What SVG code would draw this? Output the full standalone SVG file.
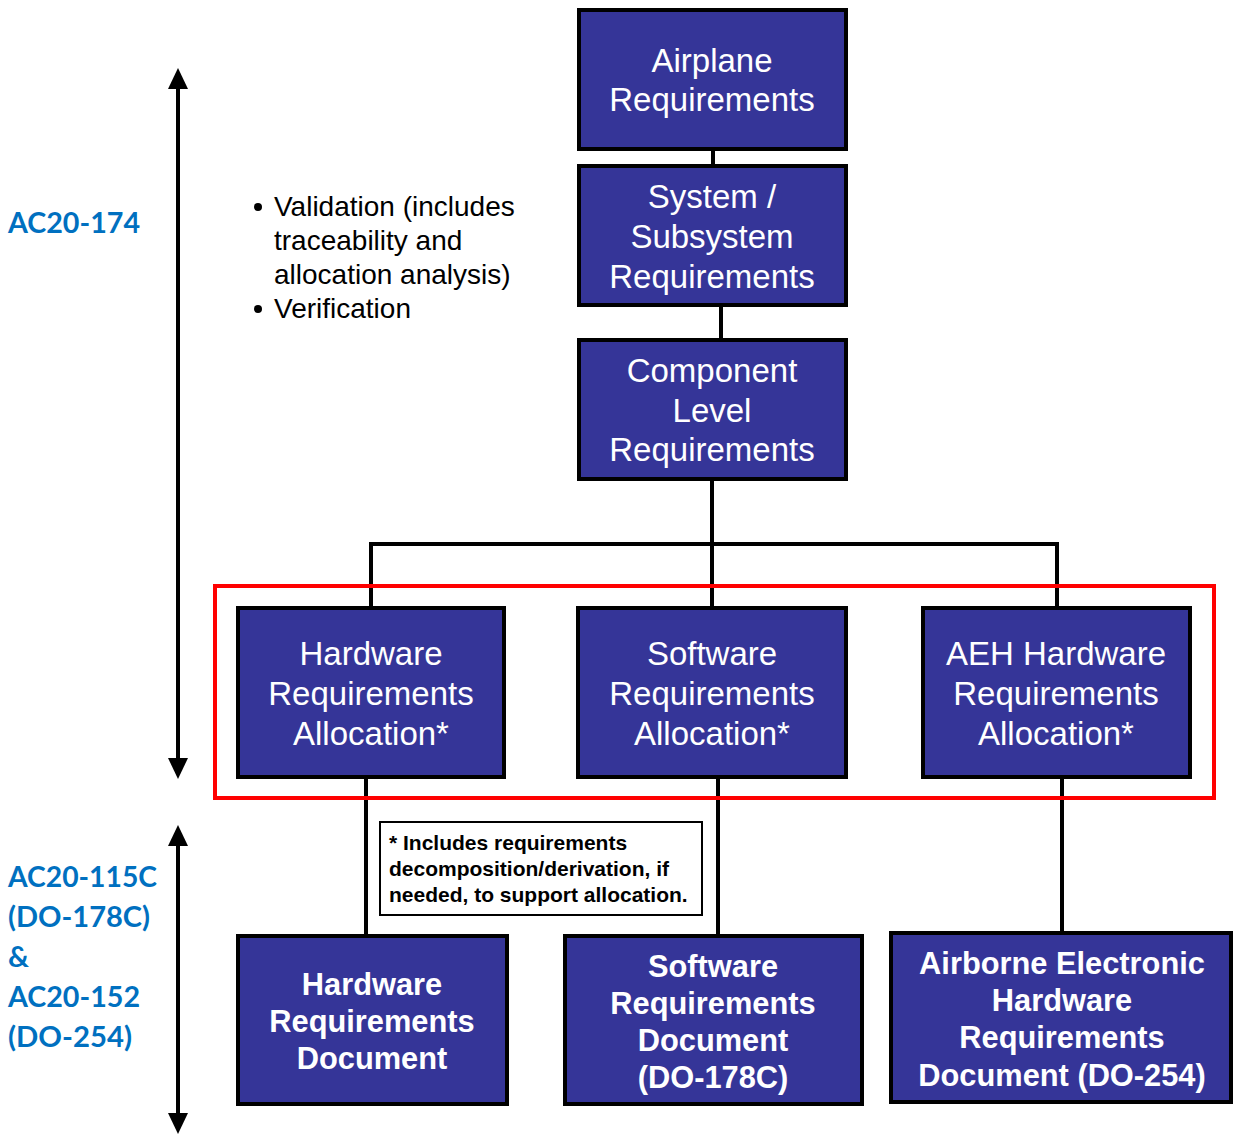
<svg xmlns="http://www.w3.org/2000/svg" width="1233" height="1135" viewBox="0 0 1233 1135">
  <style>
    .box { fill: #353598; stroke: #000; stroke-width: 4; }
    .lbl { fill: #fff; font-family: "Liberation Sans", Arial, sans-serif; font-size: 33px; text-anchor: middle; }
    .doc { fill: #fff; font-family: "Liberation Sans", Arial, sans-serif; font-size: 30.8px; font-weight: bold; text-anchor: middle; }
    .conn { stroke: #000; stroke-width: 4; fill: none; }
    .std { fill: #0070C0; font-family: Lato, "Open Sans", sans-serif; font-size: 29px; font-weight: bold; }
    .bul { fill: #000; font-family: "Liberation Sans", Arial, sans-serif; font-size: 28px; }
    .note { fill: #000; font-family: "Liberation Sans", Arial, sans-serif; font-size: 21px; font-weight: bold; }
    .head { fill: #000; }
  </style>

  <!-- scope arrows on the left -->
  <g id="scope-arrows">
    <line x1="178" y1="88" x2="178" y2="760" stroke="#000" stroke-width="4"/>
    <polygon class="head" points="168,89 178,68 188,89"/>
    <polygon class="head" points="168,758 178,779 188,758"/>
    <line x1="178" y1="845" x2="178" y2="1114" stroke="#000" stroke-width="4"/>
    <polygon class="head" points="168,846 178,825 188,846"/>
    <polygon class="head" points="168,1113 178,1134 188,1113"/>
  </g>

  <!-- guidance labels -->
  <g id="guidance">
    <text class="std" x="8" y="233" textLength="132" lengthAdjust="spacingAndGlyphs">AC20-174</text>
    <text class="std" x="8" y="887" textLength="149" lengthAdjust="spacingAndGlyphs">AC20-115C</text>
    <text class="std" x="8" y="927" textLength="142" lengthAdjust="spacingAndGlyphs">(DO-178C)</text>
    <text class="std" x="8" y="967">&amp;</text>
    <text class="std" x="8" y="1007" textLength="132" lengthAdjust="spacingAndGlyphs">AC20-152</text>
    <text class="std" x="8" y="1047" textLength="124" lengthAdjust="spacingAndGlyphs">(DO-254)</text>
  </g>

  <!-- bullet notes -->
  <g id="activities">
    <circle cx="258" cy="207" r="4" fill="#000"/>
    <text class="bul" x="274" y="216">Validation (includes</text>
    <text class="bul" x="274" y="250">traceability and</text>
    <text class="bul" x="274" y="284">allocation analysis)</text>
    <circle cx="258" cy="309" r="4" fill="#000"/>
    <text class="bul" x="274" y="318">Verification</text>
  </g>

  <!-- connectors -->
  <g id="connectors">
    <line class="conn" x1="713" y1="150" x2="713" y2="166"/>
    <line class="conn" x1="721" y1="306" x2="721" y2="340"/>
    <line class="conn" x1="712" y1="480" x2="712" y2="608"/>
    <polyline class="conn" points="371,608 371,544 1057,544 1057,608"/>
    <line class="conn" x1="366" y1="778" x2="366" y2="936"/>
    <line class="conn" x1="718" y1="778" x2="718" y2="936"/>
    <line class="conn" x1="1062" y1="778" x2="1062" y2="933"/>
  </g>

  <!-- allocation highlight -->
  <rect id="allocation-frame" x="215" y="586" width="999" height="212" fill="none" stroke="#ff0000" stroke-width="4"/>

  <g id="airplane-req">
    <rect class="box" x="579" y="10" width="267" height="139"/>
    <text class="lbl" x="712" y="72">Airplane</text>
    <text class="lbl" x="712" y="111">Requirements</text>
  </g>

  <g id="system-req">
    <rect class="box" x="579" y="166" width="267" height="139"/>
    <text class="lbl" x="712" y="208">System /</text>
    <text class="lbl" x="712" y="248">Subsystem</text>
    <text class="lbl" x="712" y="288">Requirements</text>
  </g>

  <g id="component-req">
    <rect class="box" x="579" y="340" width="267" height="139"/>
    <text class="lbl" x="712" y="382">Component</text>
    <text class="lbl" x="712" y="422">Level</text>
    <text class="lbl" x="712" y="461">Requirements</text>
  </g>

  <g id="hw-alloc">
    <rect class="box" x="238" y="608" width="266" height="169"/>
    <text class="lbl" x="371" y="665">Hardware</text>
    <text class="lbl" x="371" y="705">Requirements</text>
    <text class="lbl" x="371" y="745">Allocation*</text>
  </g>

  <g id="sw-alloc">
    <rect class="box" x="578" y="608" width="268" height="169"/>
    <text class="lbl" x="712" y="665">Software</text>
    <text class="lbl" x="712" y="705">Requirements</text>
    <text class="lbl" x="712" y="745">Allocation*</text>
  </g>

  <g id="aeh-alloc">
    <rect class="box" x="923" y="608" width="267" height="169"/>
    <text class="lbl" x="1056" y="665">AEH Hardware</text>
    <text class="lbl" x="1056" y="705">Requirements</text>
    <text class="lbl" x="1056" y="745">Allocation*</text>
  </g>

  <g id="footnote">
    <rect x="380" y="822" width="322" height="93" fill="#fff" stroke="#000" stroke-width="2"/>
    <text class="note" x="389" y="850">* Includes requirements</text>
    <text class="note" x="389" y="876">decomposition/derivation, if</text>
    <text class="note" x="389" y="902">needed, to support allocation.</text>
  </g>

  <g id="hw-doc">
    <rect class="box" x="238" y="936" width="269" height="168"/>
    <text class="doc" x="372" y="995">Hardware</text>
    <text class="doc" x="372" y="1032">Requirements</text>
    <text class="doc" x="372" y="1069">Document</text>
  </g>

  <g id="sw-doc">
    <rect class="box" x="565" y="936" width="297" height="168"/>
    <text class="doc" x="713" y="977">Software</text>
    <text class="doc" x="713" y="1014">Requirements</text>
    <text class="doc" x="713" y="1051">Document</text>
    <text class="doc" x="713" y="1088">(DO-178C)</text>
  </g>

  <g id="aeh-doc">
    <rect class="box" x="891" y="933" width="340" height="169"/>
    <text class="doc" x="1062" y="974">Airborne Electronic</text>
    <text class="doc" x="1062" y="1011">Hardware</text>
    <text class="doc" x="1062" y="1048">Requirements</text>
    <text class="doc" x="1062" y="1086">Document (DO-254)</text>
  </g>
</svg>
